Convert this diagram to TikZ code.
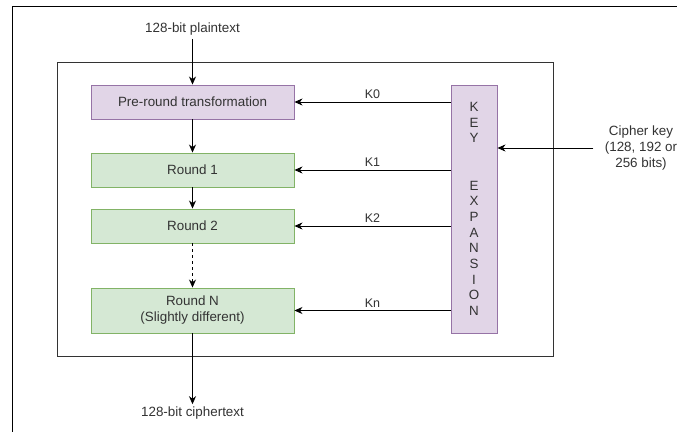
\documentclass[tikz,border=0pt]{standalone}
\usepackage{fontspec}
\setmainfont{Liberation Sans}
\usetikzlibrary{arrows.meta}
\definecolor{purplefill}{HTML}{E1D5E7}
\definecolor{purpleline}{HTML}{9673A6}
\definecolor{greenfill}{HTML}{D5E8D4}
\definecolor{greenline}{HTML}{82B366}
\definecolor{txt}{HTML}{333333}
\begin{document}
\begin{tikzpicture}[x=1pt,y=-1pt,
  every node/.style={font=\fontsize{13.4}{16}\selectfont, text=txt},
  stage/.style={draw, line width=0.9pt, minimum width=203pt, inner sep=0pt},
  prebox/.style={stage, fill=purplefill, draw=purpleline, minimum height=34pt},
  roundbox/.style={stage, fill=greenfill, draw=greenline, minimum height=34pt},
  arr/.style={-{Stealth[length=8pt,width=7pt,inset=2.5pt]}, line width=0.9pt, draw=black},
  klabel/.style={midway, above, inner sep=3pt, font=\fontsize{12.5}{15}\selectfont}]
  \clip (0,0) rectangle (677,432);
  \fill[white] (0,0) rectangle (677,432);

  % surrounding frame
  \draw[line width=1pt] (677,6) -- (12,6) -- (12,432);
  % cipher block
  \draw[line width=1pt, draw=txt] (57,62) rectangle (553,356);

  % stages
  \node[prebox] (pre) at (192.5,102) {Pre-round transformation};
  \node[roundbox] (r1) at (192.5,170) {Round 1};
  \node[roundbox] (r2) at (192.5,226) {Round 2};
  \node[roundbox, minimum height=45pt, align=center] (rn) at (192.5,310.5) {Round N\\(Slightly different)};

  % key schedule
  \node[draw=purpleline, fill=purplefill, line width=0.9pt, minimum width=46pt, minimum height=248pt,
        inner sep=0pt, align=center, font=\fontsize{13.4}{15.7}\selectfont] (key) at (474,209)
        {K\\E\\Y\\[31.4pt]E\\X\\P\\A\\N\\S\\I\\O\\N};

  % inputs and outputs
  \node (plain) at (192.5,29) {128-bit plaintext};
  \node (cipher) at (192.5,413) {128-bit ciphertext};
  \node[align=center] (ckey) at (641,148) {Cipher key\\(128, 192 or\\256 bits)};

  % data path
  \draw[arr] (plain.south) -- (pre.north);
  \draw[arr] (pre.south) -- (r1.north);
  \draw[arr] (r1.south) -- (r2.north);
  \draw[arr, dashed] (r2.south) -- (rn.north);
  \draw[arr] (rn.south) -- ([yshift=-1pt]cipher.north);

  % round keys
  \draw[arr] (key.west |- pre.east) -- node[klabel] {K0} (pre.east);
  \draw[arr] (key.west |- r1.east) -- node[klabel] {K1} (r1.east);
  \draw[arr] (key.west |- r2.east) -- node[klabel] {K2} (r2.east);
  \draw[arr] (key.west |- rn.east) -- node[klabel] {Kn} (rn.east);

  % key input
  \draw[arr] ([xshift=-8pt]ckey.west) -- (key.east |- ckey.west);
\end{tikzpicture}
\end{document}
